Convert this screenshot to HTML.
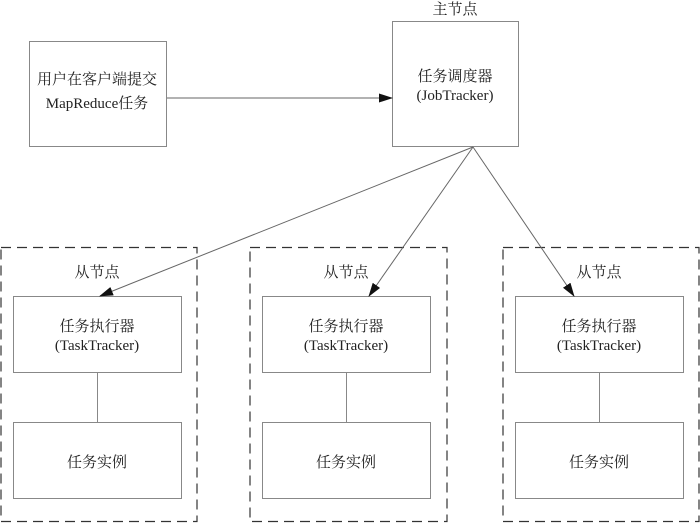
<!DOCTYPE html>
<html><head><meta charset="utf-8"><style>
html,body{margin:0;padding:0;background:#fff}
svg text{font-family:"Liberation Serif","Noto Serif CJK SC",serif;font-size:15px;fill:#222}
</style></head><body>
<svg width="700" height="523" viewBox="0 0 700 523" xmlns="http://www.w3.org/2000/svg">
<defs><marker id="a" markerWidth="14" markerHeight="9" refX="13" refY="4.5" orient="auto" markerUnits="userSpaceOnUse"><path d="M0,0 L14,4.5 L0,9 z" fill="#111"/></marker></defs>
<g fill="none" stroke="#888" stroke-width="1">
<rect x="29.5" y="41.5" width="137" height="105"/>
<rect x="392.5" y="21.5" width="126" height="125"/>
<rect x="13.5" y="296.5" width="168" height="76"/>
<rect x="13.5" y="422.5" width="168" height="76"/>
<rect x="262.5" y="296.5" width="168" height="76"/>
<rect x="262.5" y="422.5" width="168" height="76"/>
<rect x="515.5" y="296.5" width="168" height="76"/>
<rect x="515.5" y="422.5" width="168" height="76"/>
<line x1="97.5" y1="372" x2="97.5" y2="422"/>
<line x1="346.5" y1="372" x2="346.5" y2="422"/>
<line x1="599.5" y1="372" x2="599.5" y2="422"/>
</g>
<g fill="none" stroke="#333" stroke-width="1.2" stroke-dasharray="10,6">
<rect x="1" y="247.5" width="196" height="274"/>
<rect x="250" y="247.5" width="197" height="274"/>
<rect x="503" y="247.5" width="196" height="274"/>
</g>
<g stroke="#666" stroke-width="1" marker-end="url(#a)">
<line x1="167" y1="98" x2="392" y2="98"/>
<line x1="473" y1="147" x2="100" y2="296"/>
<line x1="473" y1="147" x2="369" y2="296"/>
<line x1="473" y1="147" x2="574" y2="296"/>
</g>
<g text-anchor="middle">
<text x="455" y="14">主节点</text>
<text x="97" y="84">用户在客户端提交</text>
<text x="97" y="108">MapReduce任务</text>
<text x="455" y="81">任务调度器</text>
<text x="455" y="100">(JobTracker)</text>
<text x="97" y="277">从节点</text>
<text x="97" y="331">任务执行器</text>
<text x="97" y="350">(TaskTracker)</text>
<text x="97" y="467">任务实例</text>
<text x="346" y="277">从节点</text>
<text x="346" y="331">任务执行器</text>
<text x="346" y="350">(TaskTracker)</text>
<text x="346" y="467">任务实例</text>
<text x="599" y="277">从节点</text>
<text x="599" y="331">任务执行器</text>
<text x="599" y="350">(TaskTracker)</text>
<text x="599" y="467">任务实例</text>
</g>
</svg>
</body></html>
